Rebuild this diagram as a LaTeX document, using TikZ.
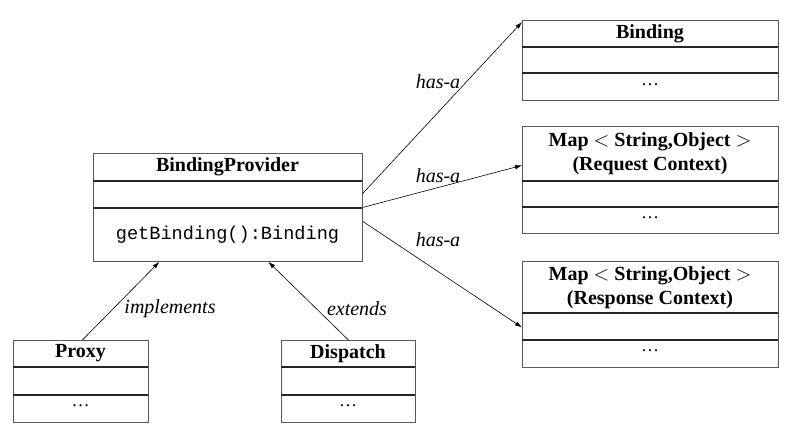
\documentclass[tikz,border=0pt]{standalone}
\usepackage{fontspec}
\setmainfont{Liberation Serif}
\setmonofont{Liberation Mono}
\usetikzlibrary{arrows.meta}
\begin{document}
\begin{tikzpicture}[x=1pt,y=-1pt,
  cls/.style={draw=black!65, line width=0.8pt, anchor=north west, inner sep=0pt, fill=white},
  sepline/.style={line width=1.1pt, draw=black!85},
  ttl/.style={font=\bfseries\fontsize{20}{24}\selectfont, align=center, inner sep=0pt},
  dotstxt/.style={font=\fontsize{18}{20}\selectfont, inner sep=0pt},
  lbl/.style={font=\itshape\fontsize{20}{22}\selectfont, inner sep=0pt},
  conn/.style={line width=0.6pt, -{Latex[length=7pt,width=4.5pt]}},
]
\useasboundingbox[fill=white] (0,0) rectangle (800,432);

% BindingProvider
\node[cls, minimum width=269pt, minimum height=108pt] (bp) at (93,153) {};
\draw[sepline] (93,181) -- (362,181);
\draw[sepline] (93,208) -- (362,208);
\node[ttl] (bpt) at (227.5,167) {BindingProvider};
\node[font=\ttfamily\fontsize{18.6}{20}\selectfont, inner sep=0pt] (bpm) at (227.5,235) {getBinding():Binding};

% Binding
\node[cls, minimum width=256pt, minimum height=80pt] (bind) at (522,20) {};
\draw[sepline] (522,47) -- (778,47);
\draw[sepline] (522,73) -- (778,73);
\node[ttl] (bindt) at (650,33.5) {Binding};
\node[dotstxt] (bindd) at (650,85) {\dots};

% Request context
\node[cls, minimum width=256pt, minimum height=107pt] (req) at (522,126) {};
\draw[sepline] (522,181) -- (778,181);
\draw[sepline] (522,207) -- (778,207);
\node[ttl] (reqt) at (650,154) {Map $<$ String,Object $>$\\(Request Context)};
\node[dotstxt] (reqd) at (650,218) {\dots};

% Response context
\node[cls, minimum width=256pt, minimum height=106pt] (resp) at (522,261) {};
\draw[sepline] (522,313) -- (778,313);
\draw[sepline] (522,340) -- (778,340);
\node[ttl] (respt) at (650,288) {Map $<$ String,Object $>$\\(Response Context)};
\node[dotstxt] (respd) at (650,351) {\dots};

% Proxy
\node[cls, minimum width=135pt, minimum height=82pt] (proxy) at (13,340) {};
\draw[sepline] (13,367) -- (148,367);
\draw[sepline] (13,395) -- (148,395);
\node[ttl] (proxyt) at (80.5,353.5) {Proxy};
\node[dotstxt] (proxyd) at (80.5,406) {\dots};

% Dispatch
\node[cls, minimum width=134pt, minimum height=82pt] (disp) at (281,340) {};
\draw[sepline] (281,367) -- (415,367);
\draw[sepline] (281,395) -- (415,395);
\node[ttl] (dispt) at (348,353.5) {Dispatch};
\node[dotstxt] (dispd) at (348,406) {\dots};

% connectors
\draw[conn] ([xshift=1.5pt]proxy.north) -- ([xshift=-68.5pt]bp.south);
\draw[conn] (disp.north) -- ([xshift=40.5pt]bp.south);
\draw[conn] ([yshift=14pt]bp.east) -- ([yshift=-2pt]bind.north west);
\draw[conn] (bp.east) -- ([yshift=14.5pt]req.west);
\draw[conn] ([yshift=-14pt]bp.east) -- ([yshift=-13pt]resp.west);

% labels
\node[lbl] (l1) at (170,309) {implements};
\node[lbl] (l2) at (357,309) {extends};
\node[lbl] (l3) at (438,82) {has-a};
\node[lbl] (l4) at (438,176) {has-a};
\node[lbl] (l5) at (438,240) {has-a};
\end{tikzpicture}
\end{document}
